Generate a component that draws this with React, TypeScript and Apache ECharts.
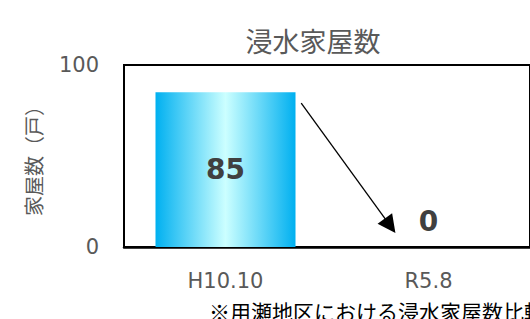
import React, { useEffect, useRef } from "react";
import * as echarts from "echarts";

const TITLE = "浸水家屋数";
const FOOTNOTE = "※用瀬地区における浸水家屋数比較";
const Y_NAME = "家屋数（戸）";
const CATEGORIES = ["H10.10", "R5.8"];
const VALUES = [85, 0];
const Y_MIN = 0;
const Y_MAX = 100;
// arrow annotation in (category-position, value) space
const ARROW_FROM = [0.373, 79];
const ARROW_TO = [0.811, 11.7];

const LATIN = "'DejaVu Sans', 'Noto Sans CJK JP', sans-serif";
const CJK = "'Noto Sans CJK JP', sans-serif";

export default function App() {
  const ref = useRef<HTMLDivElement>(null);
  useEffect(() => {
    if (!ref.current) return;
    const chart = echarts.init(ref.current, undefined, { renderer: "svg" });
    chart.setOption({
      animation: false,
      backgroundColor: "#ffffff",
      title: [
        {
          text: TITLE,
          left: 308,
          textAlign: "center",
          top: 22,
          textStyle: { fontFamily: CJK, fontSize: 27, fontWeight: "normal", color: "#595959" },
        },
        {
          text: FOOTNOTE,
          left: 204,
          top: 295,
          textStyle: { fontFamily: CJK, fontSize: 21, fontWeight: "normal", color: "#000000" },
        },
      ],
      grid: {
        left: 124,
        top: 65,
        right: -4,
        bottom: 72,
        show: true,
        borderColor: "#000000",
        borderWidth: 2,
        backgroundColor: "transparent",
      },
      xAxis: [
        {
          type: "category",
          data: CATEGORIES,
          axisTick: { show: false },
          axisLine: { show: true, lineStyle: { color: "#000000", width: 2.5 } },
          axisLabel: { fontFamily: LATIN, fontSize: 21, color: "#595959", margin: 23 },
        },
        {
          type: "value",
          min: -0.5,
          max: 1.5,
          show: false,
        },
      ],
      yAxis: {
        type: "value",
        min: Y_MIN,
        max: Y_MAX,
        interval: 100,
        name: Y_NAME,
        nameLocation: "middle",
        nameRotate: 90,
        nameGap: 81,
        nameTextStyle: { fontFamily: CJK, fontSize: 20, color: "#595959" },
        axisLine: { show: false },
        axisTick: { show: false },
        splitLine: { show: false },
        axisLabel: { fontFamily: LATIN, fontSize: 21, color: "#595959", margin: 25 },
      },
      series: [
        {
          type: "bar",
          xAxisIndex: 0,
          barWidth: 140,
          data: VALUES.map((v) =>
            v === 0
              ? { value: v, label: { position: "top", distance: 12 } }
              : { value: v }
          ),
          itemStyle: {
            color: new echarts.graphic.LinearGradient(0, 0, 1, 0, [
              { offset: 0, color: "#00b0f0" },
              { offset: 0.5, color: "#ccffff" },
              { offset: 1, color: "#00b0f0" },
            ]),
          },
          label: {
            show: true,
            position: "inside",
            fontFamily: LATIN,
            fontSize: 28,
            fontWeight: "bold",
            color: "#404040",
          },
        },
        {
          type: "lines",
          coordinateSystem: "cartesian2d",
          xAxisIndex: 1,
          yAxisIndex: 0,
          symbol: ["none", "triangle"],
          symbolSize: [15, 18],
          lineStyle: { color: "#000000", width: 1.3, opacity: 1 },
          itemStyle: { color: "#000000" },
          data: [{ coords: [ARROW_FROM, ARROW_TO] }],
        },
      ],
    });
    return () => chart.dispose();
  }, []);
  return (
    <div
      ref={ref}
      style={{ position: "absolute", left: 0, top: 0, width: 530, height: 319, overflow: "hidden" }}
    />
  );
}
